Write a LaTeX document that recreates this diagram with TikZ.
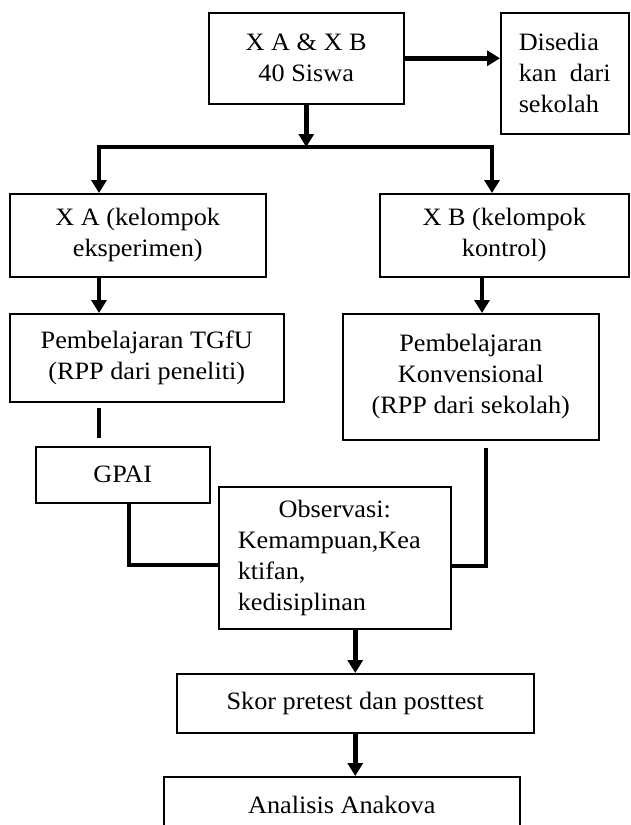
\documentclass[tikz,border=0pt]{standalone}
\usepackage{fontspec}
\setmainfont{Liberation Serif}[FakeStretch=1.05]
\usetikzlibrary{arrows.meta}
\tikzset{
  box/.style={draw, line width=1.5pt, inner sep=0pt, align=center, anchor=north west,
    font=\fontsize{25}{31}\selectfont},
  conn/.style={draw, line width=4.5pt},
  arr/.style={conn, -{Triangle[width=15pt,length=13pt]}},
}
\begin{document}
\begin{tikzpicture}[x=1pt,y=-1pt]
\useasboundingbox (0,0) rectangle (630,825);
\clip (0,0) rectangle (630,825);
% boxes
\node[box, minimum width=195pt, minimum height=91pt] (b1) at (208,12) {X A \& X B\\40 Siswa};
\node[box, minimum width=128pt, minimum height=121pt, text width=92pt, inner xsep=18pt, align=left] (dis) at (500,12)
  {Disedia\\\makebox[\linewidth][l]{kan\hfill dari}\\sekolah};
\node[box, minimum width=256pt, minimum height=83pt] (xa) at (9,193) {X A (kelompok\\eksperimen)};
\node[box, minimum width=249pt, minimum height=83pt] (xb) at (379,193) {X B (kelompok\\kontrol)};
\node[box, minimum width=274pt, minimum height=88pt] (tgfu) at (9,313) {Pembelajaran TGfU\\(RPP dari peneliti)};
\node[box, minimum width=256pt, minimum height=126pt] (konv) at (342,313) {Pembelajaran\\Konvensional\\(RPP dari sekolah)};
\node[box, minimum width=174pt, minimum height=56pt] (gpai) at (35,446) {GPAI};
\node[box, minimum width=232pt, minimum height=142pt, text width=194pt, inner xsep=19pt, align=left] (obs) at (218,486)
  {\makebox[\linewidth]{Observasi:}\\Kemampuan,Kea\\ktifan,\\kedisiplinan};
\node[box, minimum width=357pt, minimum height=59pt] (skor) at (176,673) {Skor pretest dan posttest};
\node[box, minimum width=356pt, minimum height=56pt] (ana) at (163,776) {Analisis Anakova};
% helper coordinates
\coordinate (hl) at (99,147);
\coordinate (hr) at (492,147);
\coordinate (kx) at (482,0);
\coordinate (gturn) at (129,565);
\coordinate (kturn) at (486,566);
% connectors
\draw[arr] (b1.east) -- (b1.east -| dis.west);
\draw[arr] (b1.south) -- (b1.south |- hl);
\draw[conn, {Triangle[width=15pt,length=13pt]}-{Triangle[width=15pt,length=13pt]}]
  (hl |- xa.north) -- (hl) -- (hr) -- (hr |- xb.north);
\draw[arr] (hl |- xa.south) -- (hl |- tgfu.north);
\draw[arr] (kx |- xb.south) -- (kx |- konv.north);
\draw[conn, shorten <=5pt, shorten >=8pt] (hl |- tgfu.south) -- (hl |- gpai.north);
\draw[conn] (gturn |- gpai.south) -- (gturn) -- (gturn -| obs.west);
\draw[conn, shorten <=7pt] (kturn |- konv.south) -- (kturn) -- (kturn -| obs.east);
\draw[arr] (obs.south -| skor.north) -- (skor.north);
\draw[arr] (skor.south) -- (skor.south |- ana.north);
\end{tikzpicture}
\end{document}
